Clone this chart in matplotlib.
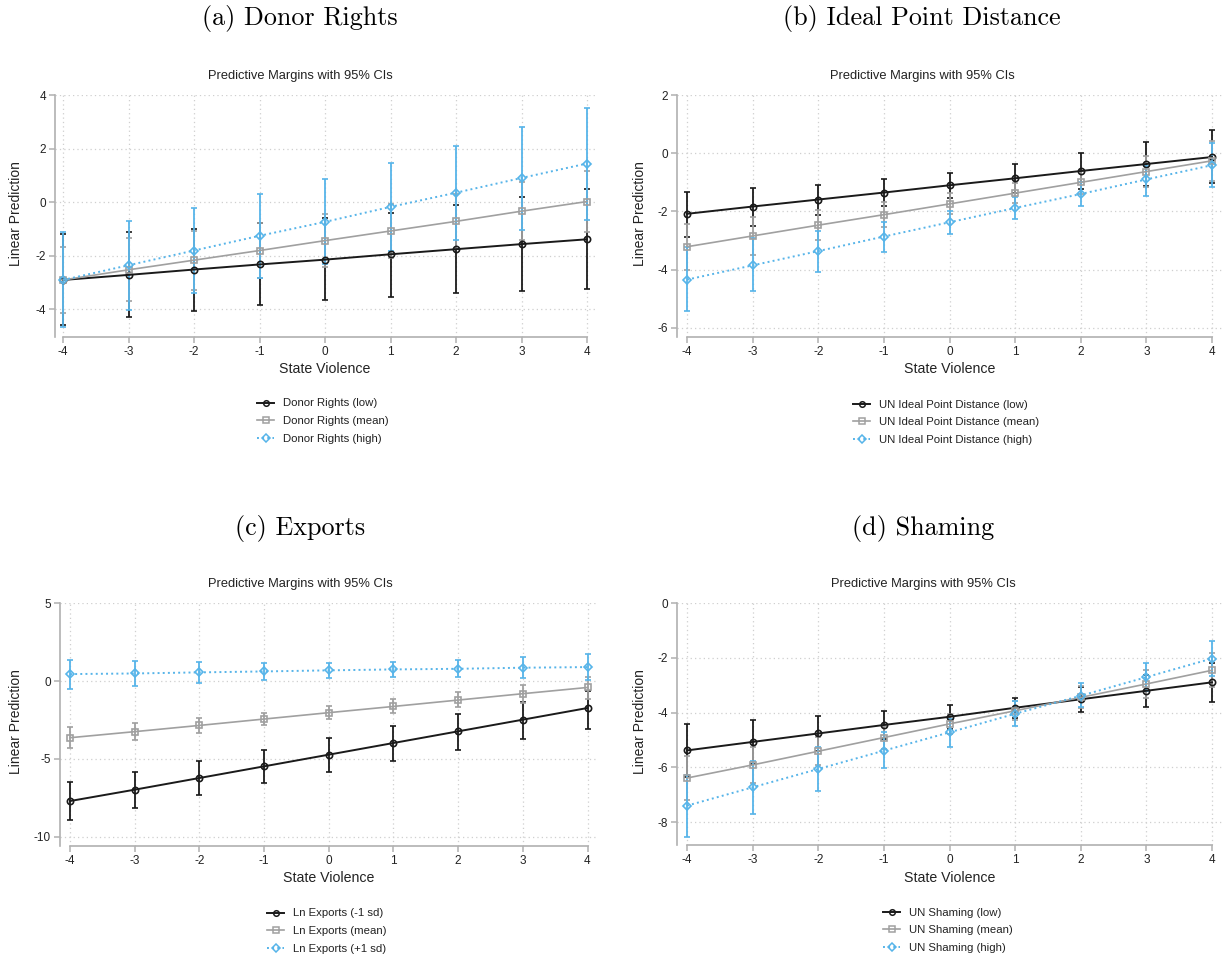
import numpy as np
import matplotlib
matplotlib.use('Agg')
import matplotlib.pyplot as plt
from matplotlib.lines import Line2D

plt.rcParams['font.family'] = ['Liberation Sans', 'DejaVu Sans']
plt.rcParams['axes.unicode_minus'] = False

W, H = 1225, 958

# ── data ────────────────────────────────────────────────────────────────────
violence = [-4, -3, -2, -1, 0, 1, 2, 3, 4]

# (a) Donor Rights
a_low     = [-2.91, -2.72, -2.52, -2.33, -2.15, -1.95, -1.76, -1.57, -1.39]
a_low_lo  = [-4.61, -4.31, -4.06, -3.85, -3.65, -3.53, -3.40, -3.31, -3.25]
a_low_hi  = [-1.19, -1.11, -0.99, -0.79, -0.59, -0.39, -0.12, 0.18, 0.50]
a_mean    = [-2.91, -2.53, -2.17, -1.81, -1.44, -1.08, -0.72, -0.34, 0.02]
a_mean_lo = [-4.16, -3.70, -3.27, -2.85, -2.44, -2.08, -1.75, -1.42, -1.12]
a_mean_hi = [-1.66, -1.36, -1.07, -0.77, -0.44, -0.08, 0.31, 0.74, 1.16]
a_high    = [-2.91, -2.36, -1.81, -1.26, -0.74, -0.18, 0.35, 0.90, 1.44]
a_high_lo = [-4.68, -4.02, -3.40, -2.84, -2.32, -1.82, -1.42, -1.03, -0.67]
a_high_hi = [-1.13, -0.70, -0.23, 0.29, 0.85, 1.47, 2.11, 2.81, 3.53]

# (b) Ideal Point Distance
b_low     = [-2.08, -1.83, -1.59, -1.35, -1.10, -0.86, -0.61, -0.37, -0.13]
b_low_lo  = [-2.86, -2.49, -2.12, -1.81, -1.53, -1.37, -1.24, -1.12, -1.03]
b_low_hi  = [-1.32, -1.20, -1.08, -0.89, -0.68, -0.36, 0.00, 0.40, 0.79]
b_mean    = [-3.21, -2.84, -2.47, -2.11, -1.74, -1.37, -1.00, -0.63, -0.26]
b_mean_lo = [-4.00, -3.48, -2.99, -2.53, -2.10, -1.72, -1.40, -1.15, -0.94]
b_mean_hi = [-2.42, -2.20, -1.95, -1.69, -1.38, -1.02, -0.60, -0.11, 0.42]
b_high    = [-4.34, -3.85, -3.36, -2.86, -2.37, -1.88, -1.40, -0.90, -0.41]
b_high_lo = [-5.41, -4.73, -4.07, -3.40, -2.77, -2.25, -1.81, -1.47, -1.15]
b_high_hi = [-3.21, -2.92, -2.66, -2.37, -1.97, -1.51, -0.99, -0.44, 0.34]

# (c) Exports
c_low     = [-7.71, -6.98, -6.23, -5.48, -4.73, -3.98, -3.23, -2.48, -1.73]
c_low_lo  = [-8.95, -8.14, -7.34, -6.57, -5.82, -5.12, -4.43, -3.75, -3.08]
c_low_hi  = [-6.51, -5.85, -5.14, -4.43, -3.66, -2.87, -2.10, -1.37, -0.64]
c_mean    = [-3.64, -3.25, -2.85, -2.44, -2.03, -1.63, -1.22, -0.81, -0.41]
c_mean_lo = [-4.33, -3.81, -3.34, -2.85, -2.44, -2.08, -1.65, -1.39, -1.13]
c_mean_hi = [-2.98, -2.68, -2.36, -2.03, -1.63, -1.18, -0.73, -0.24, 0.28]
c_high    = [0.45, 0.49, 0.56, 0.62, 0.69, 0.75, 0.79, 0.86, 0.90]
c_high_lo = [-0.49, -0.30, -0.11, 0.06, 0.17, 0.26, 0.24, 0.17, 0.09]
c_high_hi = [1.37, 1.28, 1.20, 1.16, 1.16, 1.24, 1.37, 1.52, 1.71]

# (d) Shaming
d_low     = [-5.38, -5.07, -4.76, -4.45, -4.15, -3.82, -3.51, -3.20, -2.89]
d_low_lo  = [-6.36, -5.87, -5.41, -4.97, -4.58, -4.19, -3.97, -3.78, -3.61]
d_low_hi  = [-4.40, -4.27, -4.11, -3.93, -3.72, -3.45, -3.05, -2.62, -2.17]
d_mean    = [-6.39, -5.91, -5.41, -4.91, -4.41, -3.93, -3.44, -2.95, -2.45]
d_mean_lo = [-7.19, -6.56, -5.93, -5.33, -4.77, -4.28, -3.84, -3.45, -3.07]
d_mean_hi = [-5.59, -5.26, -4.89, -4.49, -4.05, -3.58, -3.04, -2.45, -1.83]
d_high    = [-7.40, -6.73, -6.06, -5.39, -4.72, -4.04, -3.38, -2.70, -2.02]
d_high_lo = [-8.54, -7.70, -6.85, -6.04, -5.24, -4.49, -3.80, -3.21, -2.66]
d_high_hi = [-6.27, -5.77, -5.27, -4.72, -4.23, -3.57, -2.93, -2.17, -1.39]

titles = ['(a) Donor Rights', '(b) Ideal Point Distance', '(c) Exports', '(d) Shaming']
legend_labels = [
    ['Donor Rights (low)', 'Donor Rights (mean)', 'Donor Rights (high)'],
    ['UN Ideal Point Distance (low)', 'UN Ideal Point Distance (mean)',
     'UN Ideal Point Distance (high)'],
    ['Ln Exports (-1 sd)', 'Ln Exports (mean)', 'Ln Exports (+1 sd)'],
    ['UN Shaming (low)', 'UN Shaming (mean)', 'UN Shaming (high)'],
]
yticks = [[-4, -2, 0, 2, 4], [-6, -4, -2, 0, 2], [-10, -5, 0, 5], [-8, -6, -4, -2, 0]]

series = [
    [(a_low, a_low_lo, a_low_hi), (a_mean, a_mean_lo, a_mean_hi), (a_high, a_high_lo, a_high_hi)],
    [(b_low, b_low_lo, b_low_hi), (b_mean, b_mean_lo, b_mean_hi), (b_high, b_high_lo, b_high_hi)],
    [(c_low, c_low_lo, c_low_hi), (c_mean, c_mean_lo, c_mean_hi), (c_high, c_high_lo, c_high_hi)],
    [(d_low, d_low_lo, d_low_hi), (d_mean, d_mean_lo, d_mean_hi), (d_high, d_high_lo, d_high_hi)],
]

# ── layout (pixels in the 1225x958 canvas) ──────────────────────────────────
# left spine px, x=-4 px, x=4 px, top px, bottom px, ylim
layout = [
    dict(spine=55, x0=63, x1=587, top=95, bot=337, ylo=-5.04, yhi=4.0),
    dict(spine=677, x0=687, x1=1212, top=95, bot=337, ylo=-6.31, yhi=2.0),
    dict(spine=60, x0=70, x1=587.5, top=603.3, bot=846, ylo=-10.6, yhi=5.0),
    dict(spine=677, x0=687, x1=1212, top=603.3, bot=845.3, ylo=-8.85, yhi=0.0),
]
# title centre x, title y, subtitle y, ylabel x, ylabel y, xlabel y, legend handle x, legend first row y
text_pos = [
    (300, 19, 76, 16, 214, 369, 257, 403),
    (922, 19, 76, 640, 214, 369, 853, 404),
    (300, 529, 584, 16, 722, 878, 267, 913),
    (923, 529, 584, 640, 722, 878, 883, 912),
]

colors = ['#1a1a1a', '#a0a0a0', '#56b4e9']
markers = ['o', 's', 'D']
msizes = [4.5, 4.5, 4.2]
lstyles = ['-', '-', ':']
lwidths = [1.4, 1.2, 1.4]
axis_gray = '#b0b0b0'

fig = plt.figure(figsize=(W / 100, H / 100), dpi=100)

for i in range(4):
    L = layout[i]
    ppu = (L['x1'] - L['x0']) / 8.0
    xlo = -4 - (L['x0'] - L['spine']) / ppu
    xhi = 4.15
    right_px = L['x0'] + (xhi + 4) * ppu
    ax = fig.add_axes([L['spine'] / W, 1 - L['bot'] / H,
                       (right_px - L['spine']) / W, (L['bot'] - L['top']) / H])
    ax.set_xlim(xlo, xhi)
    ax.set_ylim(L['ylo'], L['yhi'])

    # CIs first, then lines
    for k, (val, lo, hi) in enumerate(series[i]):
        val = np.array(val); lo = np.array(lo); hi = np.array(hi)
        ax.errorbar(violence, val, yerr=[val - lo, hi - val], fmt='none',
                    ecolor=colors[k], elinewidth=1.3, capsize=2.3, capthick=1.2,
                    zorder=2 + k * 0.1, clip_on=False)
    for k, (val, lo, hi) in enumerate(series[i]):
        ax.plot(violence, val, color=colors[k], linestyle=lstyles[k],
                linewidth=lwidths[k], marker=markers[k], markersize=msizes[k],
                markerfacecolor='none', markeredgewidth=1.2,
                label=legend_labels[i][k], zorder=3 + k * 0.1, clip_on=False)

    ax.set_xticks(violence)
    ax.set_yticks(yticks[i])
    ax.set_xticklabels([str(v) for v in violence])
    ax.set_yticklabels([str(v) for v in yticks[i]])
    ax.grid(True, linestyle=(0, (1, 2.5)), color='#cfcfcf', linewidth=0.9)
    ax.set_axisbelow(True)
    for s in ['top', 'right']:
        ax.spines[s].set_visible(False)
    ax.spines['bottom'].set_bounds(-4, 4)
    ax.spines['bottom'].set_color(axis_gray)
    ax.spines['left'].set_color(axis_gray)
    ax.spines['bottom'].set_linewidth(1.2)
    ax.spines['left'].set_linewidth(1.2)
    ax.tick_params(axis='both', colors=axis_gray, length=4, width=1.1,
                   labelcolor='#222222', labelsize=8.5, pad=2.5)

    tx, ty, sy, ylx, yly, xly, lgx, lgy = text_pos[i]
    fig.text(tx / W, 1 - ty / H, titles[i], family='cmr10', fontsize=18.8,
             ha='center', va='center', color='black')
    fig.text(tx / W, 1 - sy / H, 'Predictive Margins with 95% CIs', fontsize=9.3,
             ha='center', va='center', color='#222222')
    fig.text(ylx / W, 1 - yly / H, 'Linear Prediction', fontsize=10, rotation=90,
             ha='center', va='center', color='#222222')
    fig.text((L['x0'] + L['x1']) / 2 / W, 1 - xly / H, 'State Violence', fontsize=10.2,
             ha='center', va='center', color='#222222')

    leg_handles = [Line2D([0], [0], color=colors[k], linestyle=lstyles[k],
                          linewidth=lwidths[k], marker=markers[k],
                          markersize=msizes[k] - 0.5, markerfacecolor='none',
                          markeredgewidth=1.1) for k in range(3)]
    fig.legend(leg_handles, legend_labels[i], loc='upper left',
               bbox_to_anchor=(lgx / W, 1 - (lgy - 4.5) / H),
               frameon=False, fontsize=8.2, handlelength=1.5, handletextpad=0.8,
               labelspacing=0.7, borderpad=0, borderaxespad=0, labelcolor='#222222')

fig.savefig('out.png', dpi=100)
